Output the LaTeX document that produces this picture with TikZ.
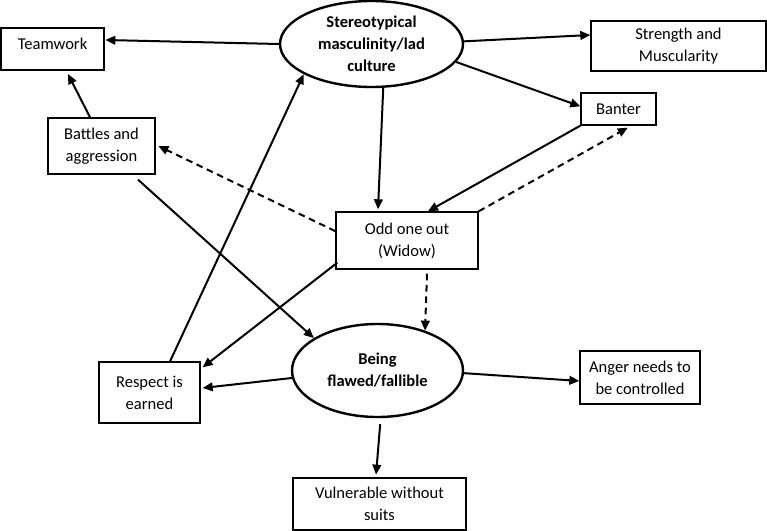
\documentclass[tikz,border=0pt]{standalone}
\usepackage{fontspec}
\setmainfont{Carlito}
\usetikzlibrary{shapes.geometric,arrows.meta}
\begin{document}
\begin{tikzpicture}[x=0.75pt,y=-0.75pt,
  box/.style={draw, line width=1pt, rectangle, inner sep=0pt, align=center,
    font=\fontsize{12.4}{16.5}\selectfont},
  oval/.style={draw, line width=1.8pt, ellipse, inner sep=0pt, align=center,
    font=\fontsize{12.4}{16.5}\selectfont\bfseries},
  arr/.style={line width=1.5pt, -{Triangle[length=7.5pt,width=6.5pt]}},
  darr/.style={arr, dash pattern=on 5pt off 3.5pt}]
\useasboundingbox (0,0) rectangle (767,531);

\node[oval, minimum width=137.25pt, minimum height=64.5pt] (stereo) at (371.5,44)
  {Stereotypical\\masculinity/lad\\culture};
\node[oval, minimum width=128.25pt, minimum height=69.75pt] (being) at (377.5,370.5)
  {Being\\flawed/fallible};

\node[box, minimum width=77.25pt, minimum height=31.5pt, text depth=8pt] (team) at (52.5,49) {Teamwork};
\node[box, minimum width=131.25pt, minimum height=37.5pt] (strength) at (678.5,46) {Strength and\\Muscularity};
\node[box, minimum width=56.25pt, minimum height=24pt] (banter) at (618.5,109) {Banter};
\node[box, minimum width=80.25pt, minimum height=42pt] (battles) at (101.5,146) {Battles and\\aggression};
\node[box, minimum width=106.5pt, minimum height=42.75pt] (odd) at (407,240.5) {Odd one out\\(Widow)};
\node[box, minimum width=75.75pt, minimum height=45.75pt] (respect) at (149.5,392.5) {Respect is\\earned};
\node[box, minimum width=90pt, minimum height=39.75pt] (anger) at (640,377.5) {Anger needs to\\be controlled};
\node[box, minimum width=129.75pt, minimum height=39pt] (vuln) at (379.5,504) {Vulnerable without\\suits};

% solid arrows
\draw[arr] (stereo.west) -- ([xshift=0.5pt,yshift=6.75pt]team.east);
\draw[arr] ([yshift=2pt]stereo.east) -- ([yshift=8.25pt]strength.west);
\draw[arr] (stereo.-12) -- ([yshift=2pt]banter.west);
\draw[arr] (stereo.-75) -- ([xshift=-21.75pt,yshift=1.5pt]odd.north);
\draw[arr] (banter.south west) -- ([xshift=15.75pt]odd.north);
\draw[arr] ([xshift=-8.6pt]battles.north) -- ([xshift=11.6pt,yshift=-2.5pt]team.south);
\draw[arr] ([xshift=27.4pt,yshift=-3.75pt]battles.south) -- (being.153);
\draw[arr] ([xshift=15.4pt]respect.north) -- (stereo.204);
\draw[arr] ([xshift=1.5pt,yshift=5.25pt]odd.south west) -- ([xshift=1.5pt,yshift=-4.5pt]respect.north east);
\draw[arr] (being.185) -- ([xshift=1.5pt,yshift=3.4pt]respect.east);
\draw[arr] ([yshift=-2pt]being.east) -- ([yshift=-2.6pt]anger.west);
\draw[arr] ([xshift=2pt,yshift=-4.5pt]being.south) -- ([xshift=-2.6pt,yshift=2pt]vuln.north);

% dashed arrows
\draw[darr] (odd.north east) -- ([xshift=7pt,yshift=-1.5pt]banter.south);
\draw[darr] ([yshift=7pt]odd.west) -- ([xshift=2pt]battles.east);
\draw[darr] ([xshift=15pt,yshift=-3pt]odd.south) -- (being.40);
\end{tikzpicture}
\end{document}
